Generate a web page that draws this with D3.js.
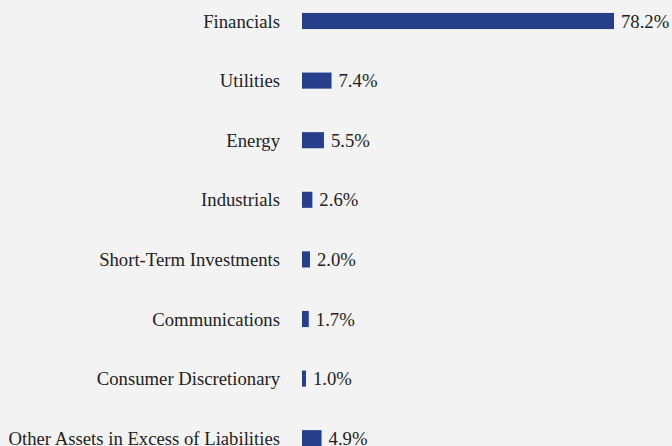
<!DOCTYPE html>
<html>
<head>
<meta charset="utf-8">
<script src="https://cdn.jsdelivr.net/npm/d3@7"></script>
<style>
  html, body { margin: 0; padding: 0; background: #f3f3f3; }
  svg { display: block; }
  text { font-family: 'Liberation Serif', 'Times New Roman', serif; }
</style>
</head>
<body>
<div id="chart"></div>
<script>
// Sector allocation values
const categories = [
    'Financials',
    'Utilities',
    'Energy',
    'Industrials',
    'Short-Term Investments',
    'Communications',
    'Consumer Discretionary',
    'Other Assets in Excess of Liabilities'
];
const values = [78.2, 7.4, 5.5, 2.6, 2.0, 1.7, 1.0, 4.9];
const valueLabels = ['78.2%', '7.4%', '5.5%', '2.6%', '2.0%', '1.7%', '1.0%', '4.9%'];

const width = 672;
const height = 446;

const svg = d3.select('#chart')
    .append('svg')
    .attr('width', width)
    .attr('height', height);

svg.append('rect')
    .attr('width', width)
    .attr('height', height)
    .attr('fill', '#f3f3f3');

const x = d3.scaleLinear()
    .domain([0, 78.2])
    .range([302, 614]);

const y = d3.scaleBand()
    .domain(categories)
    .range([-8.8, 468])
    .paddingInner(0.73)
    .paddingOuter(0.365);

const rows = categories.map((c, i) => ({ name: c, value: values[i], label: valueLabels[i] }));

svg.selectAll('rect.bar')
    .data(rows)
    .enter()
    .append('rect')
    .attr('class', 'bar')
    .attr('x', x(0))
    .attr('y', d => y(d.name))
    .attr('width', d => x(d.value) - x(0))
    .attr('height', y.bandwidth())
    .attr('fill', '#253f8a');

svg.selectAll('text.cat')
    .data(rows)
    .enter()
    .append('text')
    .attr('class', 'cat')
    .attr('x', 280)
    .attr('y', d => y(d.name) + y.bandwidth() / 2)
    .attr('dy', '0.35em')
    .attr('text-anchor', 'end')
    .style('font-size', '18.7px')
    .attr('fill', '#222')
    .text(d => d.name);

svg.selectAll('text.val')
    .data(rows)
    .enter()
    .append('text')
    .attr('class', 'val')
    .attr('x', d => x(d.value) + 7)
    .attr('y', d => y(d.name) + y.bandwidth() / 2)
    .attr('dy', '0.35em')
    .style('font-size', '18.7px')
    .attr('fill', '#222')
    .text(d => d.label);
</script>
</body>
</html>
